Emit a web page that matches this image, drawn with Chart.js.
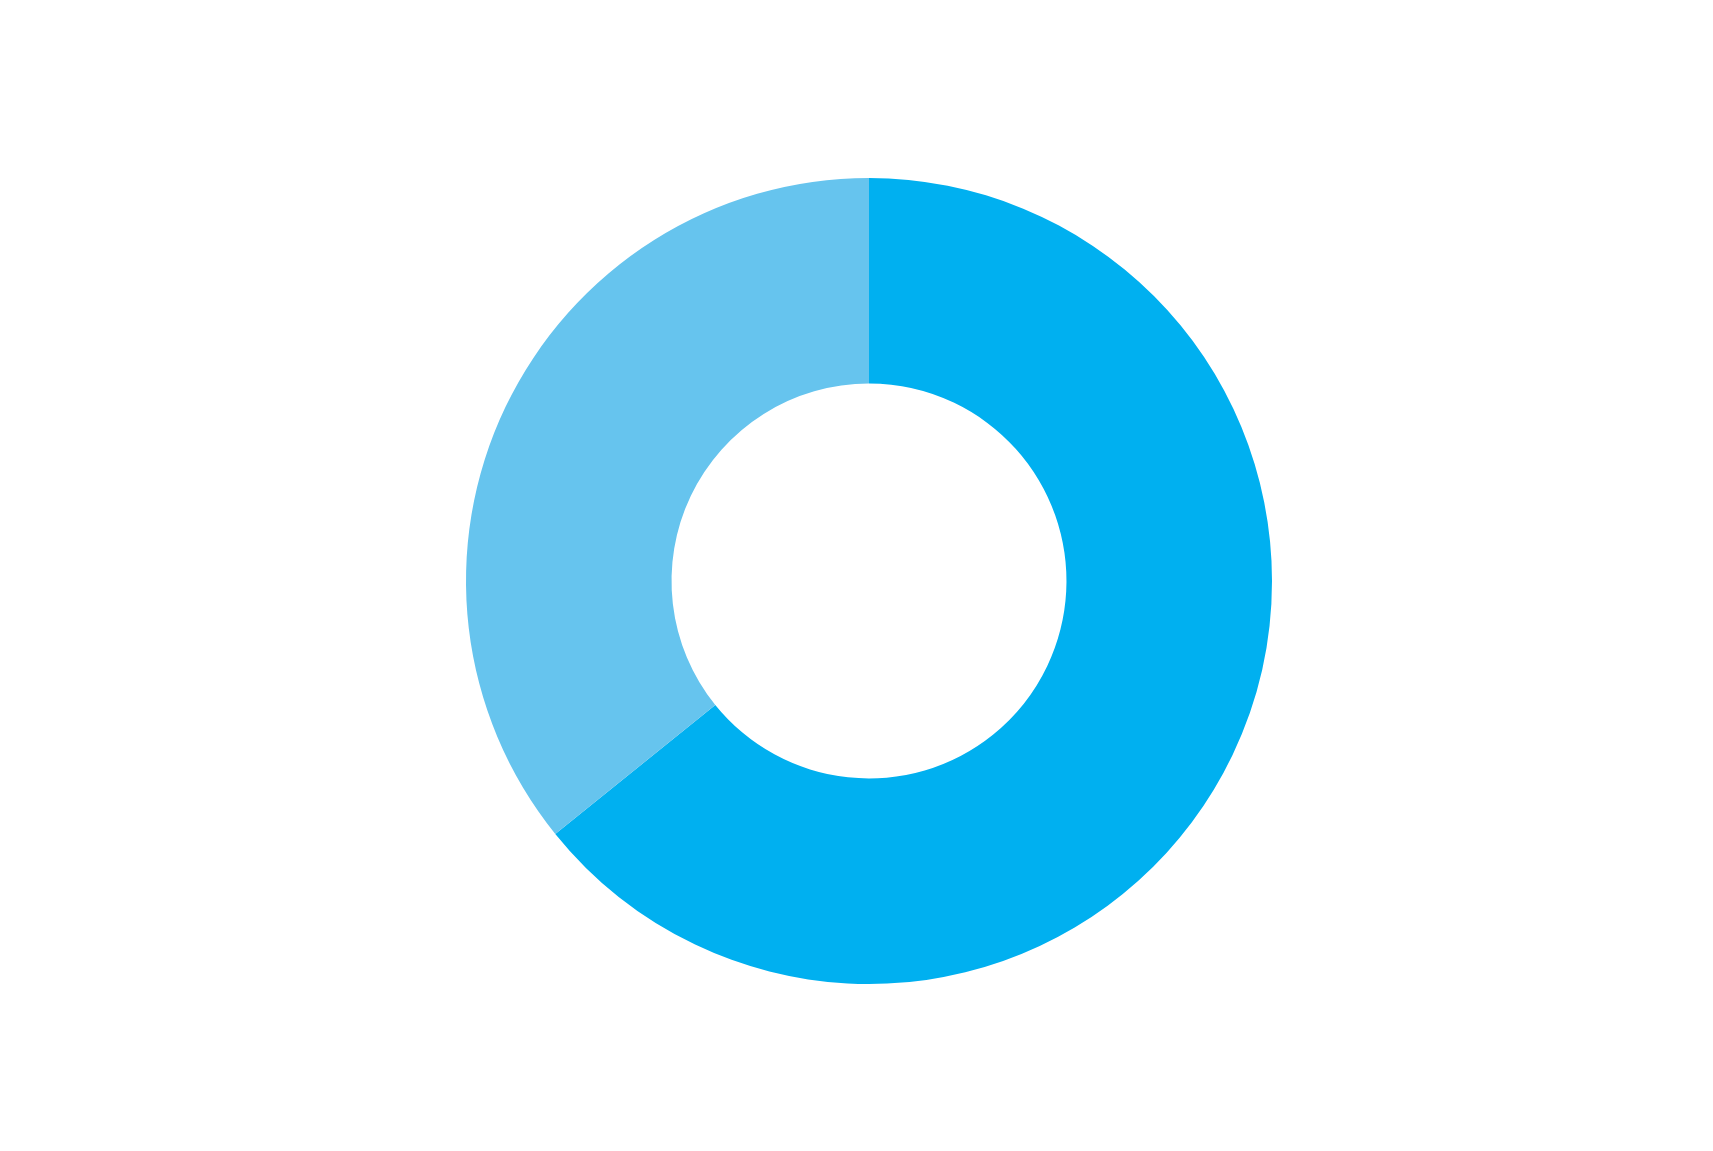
<!DOCTYPE html>
<html lang="en">
<head>
  <meta charset="UTF-8" />
  <title>Doughnut</title>
  <script src="https://cdn.jsdelivr.net/npm/chart.js"></script>
  <style>
    html, body {
      margin: 0;
      padding: 0;
      background: #ffffff;
      overflow: hidden;
    }
    .wrap {
      width: 1713px;
      height: 1151px;
    }
  </style>
</head>
<body>
  <div class="wrap">
    <canvas id="chart" width="1713" height="1151"></canvas>
  </div>

  <script>
    // data (share in %)
    const labels = ['A', 'B'];
    const values = [64.2, 35.8];
    const colors = ['#00B0F0', '#66C4EE'];

    const ctx = document.getElementById('chart').getContext('2d');

    new Chart(ctx, {
      type: 'doughnut',
      data: {
        labels: labels,
        datasets: [{
          data: values,
          backgroundColor: colors,
          borderWidth: 0
        }]
      },
      options: {
        responsive: false,
        animation: false,
        cutout: '49%',
        layout: {
          padding: { top: 178, bottom: 167, left: 25, right: 0 }
        },
        plugins: {
          legend: { display: false },
          tooltip: { enabled: false }
        }
      }
    });
  </script>
</body>
</html>
